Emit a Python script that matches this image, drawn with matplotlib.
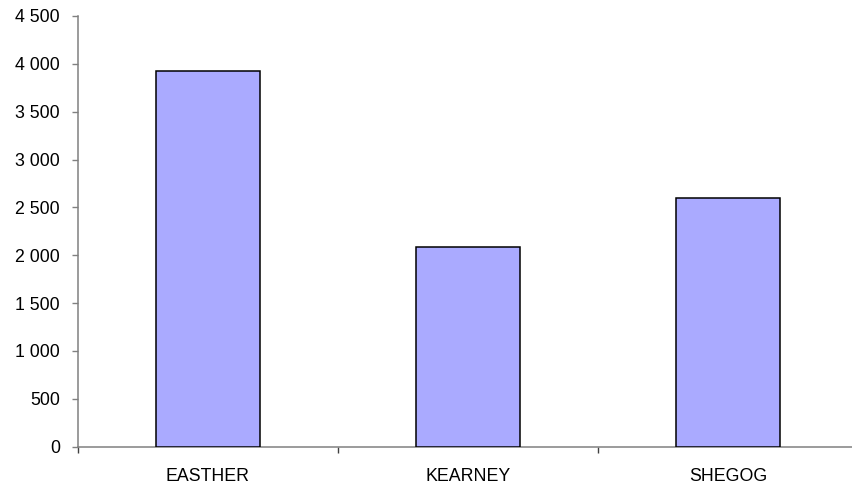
import matplotlib.pyplot as plt
import numpy as np

names = ["EASTHER", "KEARNEY", "SHEGOG"]
totals = [3928, 2090, 2600]
yticks = [0, 500, 1000, 1500, 2000, 2500, 3000, 3500, 4000, 4500]

plt.rcParams['font.family'] = ['Liberation Sans', 'DejaVu Sans']

fig = plt.figure(figsize=(8.53, 4.88), dpi=100)
ax = fig.add_axes([78 / 853, 41.3 / 488, 780 / 853, 430.7 / 488])

x = np.arange(len(names))
ax.bar(x, totals, width=0.4, color="#AAAAFF", edgecolor="black", linewidth=1.1, zorder=3)

ax.set_xlim(-0.5, len(names) - 0.5)
ax.set_ylim(0, 4500)

for s in ["top", "right"]:
    ax.spines[s].set_visible(False)
for s in ["left", "bottom"]:
    ax.spines[s].set_color("#808080")
    ax.spines[s].set_linewidth(1.1)

ax.set_yticks(yticks)
ax.set_yticklabels([f"{v:,}".replace(",", " ") for v in yticks])
ax.tick_params(axis="y", direction="out", length=4, width=1, color="#808080",
               labelsize=12.8, pad=9)

ax.set_xticks(x)
ax.set_xticklabels(names)
ax.set_xticks(np.arange(-0.5, len(names)), minor=True)
ax.tick_params(axis="x", which="major", length=0, labelsize=12.8, pad=15)
ax.tick_params(axis="x", which="minor", direction="out", length=4, width=1, color="#404040")

fig.savefig("out.png", dpi=100)
